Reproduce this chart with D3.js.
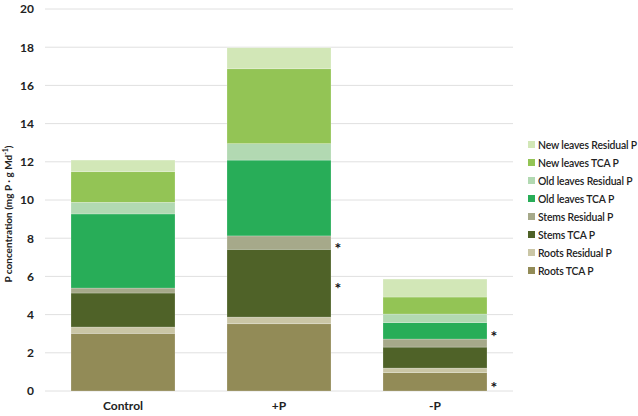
<!DOCTYPE html>
<html><head><meta charset="utf-8">
<script src="https://cdn.jsdelivr.net/npm/d3@7"></script>
<style>body{margin:0;background:#fff;font-family:Lato,"Open Sans",sans-serif;}</style>
</head><body><svg id="c" width="638" height="416"></svg>
<script>
const categories = ["Control", "+P", "-P"];
const seriesNames = ["Roots TCA P","Roots Residual P","Stems TCA P","Stems Residual P","Old leaves TCA P","Old leaves Residual P","New leaves TCA P","New leaves Residual P"];
const rootsTCA      = [3.02, 3.52, 0.96];
const rootsResidual = [0.33, 0.35, 0.24];
const stemsTCA      = [1.78, 3.55, 1.10];
const stemsResidual = [0.26, 0.70, 0.42];
const oldTCA        = [3.88, 3.97, 0.86];
const oldResidual   = [0.61, 0.86, 0.45];
const newTCA        = [1.60, 3.92, 0.89];
const newResidual   = [0.61, 1.10, 0.94];
const colors = ["#928b57","#cac6a6","#4f6228","#a6a98a","#28ad58","#b2d9b2","#93c455","#d2e7b7"];
const yTicks = [0,2,4,6,8,10,12,14,16,18,20];
// significance markers: [category index, series index]
const stars = [[1,3],[1,2],[2,4],[2,0]];

const seriesVals = [rootsTCA, rootsResidual, stemsTCA, stemsResidual, oldTCA, oldResidual, newTCA, newResidual];
const rows = categories.map((c,i)=>{const r={cat:c}; seriesNames.forEach((s,j)=>r[s]=seriesVals[j][i]); return r;});
const stack = d3.stack().keys(seriesNames)(rows);

const svg = d3.select("#c");
const m = {l:45, r:125, t:9, b:25};
const W = 638, H = 416;
const x = d3.scaleBand().domain(categories).range([m.l, W-m.r]).paddingInner(1/3).paddingOuter(1/6);
const y = d3.scaleLinear().domain([0,20]).range([H-m.b, m.t]);

// gridlines
svg.append("g").selectAll("line").data(yTicks).join("line")
  .attr("x1", m.l).attr("x2", W-m.r).attr("y1", d=>y(d)).attr("y2", d=>y(d))
  .attr("stroke", "#e0e0e0").attr("stroke-width", 1);

// y axis labels
const ya = svg.append("g").attr("transform", `translate(${m.l-11},0)`)
  .call(d3.axisLeft(y).tickValues(yTicks).tickSize(0).tickPadding(0));
ya.select(".domain").remove();
ya.selectAll("text").attr("font-size", 12).attr("font-weight", "bold").attr("fill", "#222").attr("font-family","Lato, sans-serif");

// bars
svg.append("g").selectAll("g").data(stack).join("g")
  .attr("fill", (d,i)=>colors[i])
  .selectAll("rect").data(d=>d).join("rect")
  .attr("x", d=>x(d.data.cat)).attr("width", x.bandwidth())
  .attr("y", d=>y(d[1])).attr("height", d=>y(d[0])-y(d[1]))
  .attr("stroke", "rgba(255,255,255,0.35)").attr("stroke-width", 0.6);

// stars
svg.append("g").selectAll("text").data(stars).join("text")
  .attr("x", d=>x(categories[d[0]]) + x.bandwidth() + 7)
  .attr("y", d=>{const s=stack[d[1]][d[0]]; return (y(s[0])+y(s[1]))/2 + 11;})
  .attr("text-anchor","middle").attr("font-size", 16).attr("font-weight","bold").attr("fill","#111")
  .text("*");

// x axis labels
const xa = svg.append("g").attr("transform", `translate(0,${H-m.b})`)
  .call(d3.axisBottom(x).tickSize(0).tickPadding(10));
xa.select(".domain").remove();
xa.selectAll("text").attr("font-size", 12).attr("font-weight","bold").attr("fill","#222").attr("font-family","Lato, sans-serif");

// y title
svg.append("text").attr("transform", `translate(12,214) rotate(-90)`)
  .attr("text-anchor","middle").attr("font-size", 10).attr("font-weight","bold").attr("fill","#222")
  .html('P concentration (mg P · g Md<tspan dy="-4" font-size="7">-1</tspan><tspan dy="4">)</tspan>');

// legend (reverse order)
const leg = svg.append("g").attr("transform","translate(528,145)");
const legItems = seriesNames.map((s,i)=>({s, c:colors[i]})).reverse();
const li = leg.selectAll("g").data(legItems).join("g").attr("transform",(d,i)=>`translate(0,${i*18})`);
li.append("rect").attr("x",0).attr("y",-4).attr("width",7).attr("height",7).attr("fill",d=>d.c);
li.append("text").attr("x",10).attr("y",0).attr("dy","0.35em").attr("font-size",10.4).attr("font-weight",600)
  .attr("letter-spacing","-0.15px").attr("fill","#222").text(d=>d.s);
</script></body></html>
